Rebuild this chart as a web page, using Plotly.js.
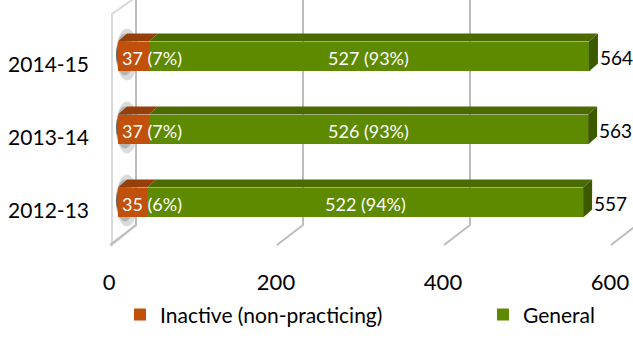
<!DOCTYPE html>
<html>
<head>
<meta charset="utf-8">
<script src="https://cdn.plot.ly/plotly-3.0.1.min.js"></script>
<style>
  html, body { margin: 0; padding: 0; background: #ffffff; }
  #chart { width: 633px; height: 347px; }
</style>
</head>
<body>
<div id="chart"></div>
<script>
// Membership by year, split into inactive and general members
const years = ['2012-13', '2013-14', '2014-15'];
const inactive = [35, 37, 37];
const general = [522, 526, 527];
const xTicks = [0, 200, 400, 600];
const seriesNames = ['Inactive (non-practicing)', 'General'];

// Canvas and plot geometry
const W = 633, H = 347;
const M = { l: 118, r: 14, t: 20, b: 99 };
const X_MAX = 600;
const BAR_WIDTH = 0.395;
const DEPTH_X = 9, DEPTH_Y = 8;          // bar thickness shown as top / side faces
const WALL_BACK = 18, FLOOR_DX = -26, FLOOR_DY = 20, GRID_TOP = 14;

const plotW = W - M.l - M.r;
const plotH = H - M.t - M.b;
const pxPerUnit = plotW / X_MAX;
const barPx = BAR_WIDTH * plotH / years.length;

const FONT = 'Lato, "Open Sans", sans-serif';
const C = {
  orange: '#C0500A', orangeTop: '#953F0A',
  green: '#5E8A00', greenTop: '#4B6B00', greenSide: '#3D5900',
  grid: '#BDBDBD', wallEdge: '#D9D9D9'
};

const totals = inactive.map((v, i) => v + general[i]);
const pct = (v, t) => Math.round(v / t * 100) + '%';

const shapes = [];

// Side wall on the left of the value axis
shapes.push({
  type: 'path', layer: 'below', xref: 'paper', yref: 'paper',
  xsizemode: 'pixel', ysizemode: 'pixel', xanchor: 0, yanchor: 0,
  path: `M ${WALL_BACK},${plotH + GRID_TOP} L ${WALL_BACK},${GRID_TOP} L ${WALL_BACK + FLOOR_DX + 2},${GRID_TOP - FLOOR_DY} L ${WALL_BACK + FLOOR_DX + 2},${plotH - 3} Z`,
  fillcolor: '#FFFFFF', line: { color: C.wallEdge, width: 2 }
});

// Soft shadows cast by each bar onto the side wall
years.forEach((y, i) => {
  [[0.18, 26, 20], [0.25, 21, 16], [0.35, 16, 12], [0.45, 11, 9]].forEach(([op, hh, ww]) => {
    shapes.push({
      type: 'circle', layer: 'below', xref: 'paper', yref: 'y',
      xsizemode: 'pixel', ysizemode: 'pixel', xanchor: 0, yanchor: i,
      x0: -2, x1: ww, y0: -hh + 2, y1: hh + 2,
      fillcolor: '#3A3A3A', opacity: op, line: { width: 0 }
    });
  });
});

// Back-wall grid lines that fold down onto the floor
xTicks.forEach(v => {
  shapes.push({
    type: 'path', layer: 'below', xref: 'paper', yref: 'paper',
    xsizemode: 'pixel', ysizemode: 'pixel', xanchor: v / X_MAX, yanchor: 0,
    path: `M ${WALL_BACK},${plotH + GRID_TOP} L ${WALL_BACK},${GRID_TOP} L ${WALL_BACK + FLOOR_DX},${GRID_TOP - FLOOR_DY}`,
    line: { color: C.grid, width: 2 }
  });
});

// Top and end faces that give the bars their depth
years.forEach((y, i) => {
  const h = barPx / 2;
  const top = (x0, value, color) => ({
    type: 'path', layer: 'above', xref: 'x', yref: 'y',
    xsizemode: 'pixel', ysizemode: 'pixel', xanchor: x0, yanchor: i,
    path: `M 0,${h} L ${value * pxPerUnit},${h} L ${value * pxPerUnit + DEPTH_X},${h + DEPTH_Y} L ${DEPTH_X},${h + DEPTH_Y} Z`,
    fillcolor: color, line: { width: 0 }
  });
  shapes.push(top(0, inactive[i], C.orangeTop));
  shapes.push(top(inactive[i], general[i], C.greenTop));
  shapes.push({
    type: 'path', layer: 'above', xref: 'x', yref: 'y',
    xsizemode: 'pixel', ysizemode: 'pixel', xanchor: totals[i], yanchor: i,
    path: `M 0,${-h} L 0,${h} L ${DEPTH_X},${h + DEPTH_Y} L ${DEPTH_X},${-h + DEPTH_Y} Z`,
    fillcolor: C.greenSide, line: { width: 0 }
  });
});

// Value labels
const annotations = [];
years.forEach((y, i) => {
  annotations.push({
    x: 0, y: y, xref: 'x', yref: 'y', xanchor: 'left', xshift: 2, yshift: -1,
    text: `${inactive[i]} (${pct(inactive[i], totals[i])})`, showarrow: false,
    font: { family: FONT, size: 18, color: '#FFFFFF' }
  });
  annotations.push({
    x: inactive[i] + general[i] / 2, y: y, xref: 'x', yref: 'y', xanchor: 'center', yshift: -1,
    text: `${general[i]} (${pct(general[i], totals[i])})`, showarrow: false,
    font: { family: FONT, size: 18, color: '#FFFFFF' }
  });
  annotations.push({
    x: totals[i], y: y, xref: 'x', yref: 'y', xanchor: 'left', xshift: DEPTH_X, yshift: -1,
    text: String(totals[i]), showarrow: false,
    font: { family: FONT, size: 19, color: '#000000' }
  });
});

const traces = [
  {
    type: 'bar', orientation: 'h', name: seriesNames[0], legend: 'legend',
    y: years, x: inactive, width: BAR_WIDTH,
    marker: { color: C.orange, line: { width: 0 } }, hoverinfo: 'skip'
  },
  {
    type: 'bar', orientation: 'h', name: seriesNames[1], legend: 'legend2',
    y: years, x: general, width: BAR_WIDTH,
    marker: { color: C.green, line: { width: 0 } }, hoverinfo: 'skip'
  }
];

const legendStyle = {
  orientation: 'h', xanchor: 'left', y: -0.3465, yanchor: 'middle',
  bgcolor: 'rgba(0,0,0,0)', itemclick: false, itemdoubleclick: false,
  font: { family: FONT, size: 21, color: '#000000' }
};

const layout = {
  width: W, height: H,
  margin: M,
  paper_bgcolor: '#FFFFFF', plot_bgcolor: 'rgba(0,0,0,0)',
  barmode: 'stack',
  font: { family: FONT, color: '#000000' },
  xaxis: {
    range: [0, X_MAX], tickvals: xTicks, ticktext: xTicks.map(String),
    showgrid: false, zeroline: false, showline: false, ticks: '',
    ticklabelshift: -9, ticklabelstandoff: 28,
    tickfont: { family: FONT, size: 22, color: '#000000' }, fixedrange: true
  },
  yaxis: {
    type: 'category', categoryorder: 'array', categoryarray: years,
    range: [-0.5, years.length - 0.5],
    showgrid: false, zeroline: false, showline: false, ticks: '',
    ticklabelstandoff: 28, ticklabelshift: 8,
    tickfont: { family: FONT, size: 21, color: '#000000' }, fixedrange: true
  },
  showlegend: true,
  legend: Object.assign({ x: 0.004 }, legendStyle),
  legend2: Object.assign({ x: 0.7285 }, legendStyle),
  shapes: shapes,
  annotations: annotations
};

Plotly.newPlot('chart', traces, layout, { displayModeBar: false, staticPlot: true });
</script>
</body>
</html>
